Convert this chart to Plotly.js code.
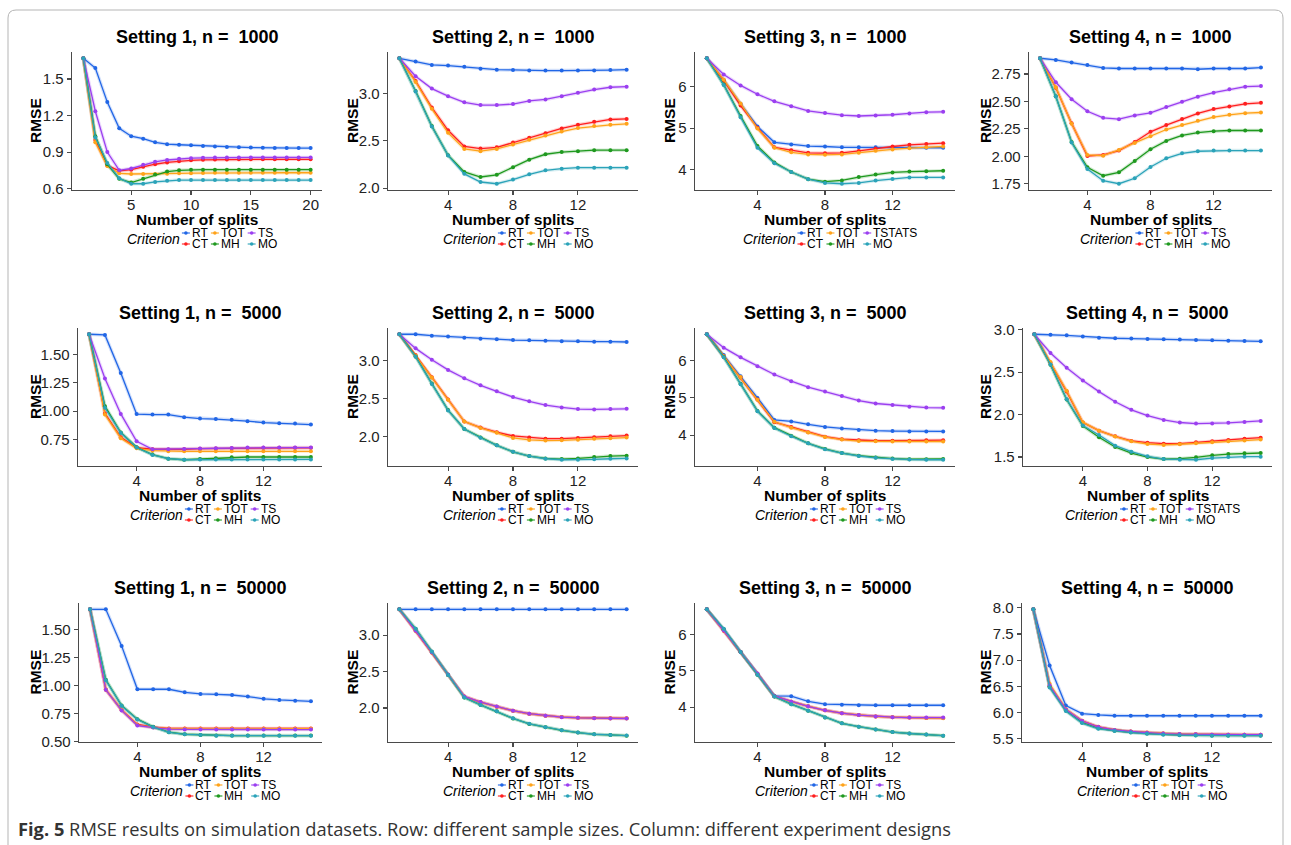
<!DOCTYPE html>
<html><head><meta charset="utf-8">
<script src="https://cdn.plot.ly/plotly-3.0.1.min.js"></script>
<style>html,body{margin:0;padding:0;background:#fff}#chart{width:1291px;height:845px}</style>
</head><body><div id="chart"></div>
<script>
// ---------------- DATA ----------------
const splits20 = [1,2,3,4,5,6,7,8,9,10,11,12,13,14,15,16,17,18,19,20];
const splits15 = [1,2,3,4,5,6,7,8,9,10,11,12,13,14,15];
const criteria = ["RT","CT","TOT","MH","TS","MO"];
const panelTitles = [
  "Setting 1, n =\u00a0 1000","Setting 2, n =\u00a0 1000","Setting 3, n =\u00a0 1000","Setting 4, n =\u00a0 1000",
  "Setting 1, n =\u00a0 5000","Setting 2, n =\u00a0 5000","Setting 3, n =\u00a0 5000","Setting 4, n =\u00a0 5000",
  "Setting 1, n =\u00a0 50000","Setting 2, n =\u00a0 50000","Setting 3, n =\u00a0 50000","Setting 4, n =\u00a0 50000"];
const tsLegendLabels = ["TS","TS","TSTATS","TS","TS","TS","TS","TSTATS","TS","TS","TS","TS"];
const xTickVals20 = [5,10,15,20];
const xTickVals15 = [4,8,12];
const yTickVals = [
  [0.6,0.9,1.2,1.5],[2.0,2.5,3.0],[4,5,6],[1.75,2.00,2.25,2.50,2.75],
  [0.75,1.00,1.25,1.50],[2.0,2.5,3.0],[4,5,6],[1.5,2.0,2.5,3.0],
  [0.50,0.75,1.00,1.25,1.50],[2.0,2.5,3.0],[4,5,6],[5.5,6.0,6.5,7.0,7.5,8.0]];
const yTickText = [
  ["0.6","0.9","1.2","1.5"],["2.0","2.5","3.0"],["4","5","6"],["1.75","2.00","2.25","2.50","2.75"],
  ["0.75","1.00","1.25","1.50"],["2.0","2.5","3.0"],["4","5","6"],["1.5","2.0","2.5","3.0"],
  ["0.50","0.75","1.00","1.25","1.50"],["2.0","2.5","3.0"],["4","5","6"],["5.5","6.0","6.5","7.0","7.5","8.0"]];

// Setting 1, n = 1000 (splits 1..20)
const S1_1000_RT  = [1.67,1.59,1.31,1.095,1.03,1.01,0.98,0.965,0.96,0.955,0.95,0.945,0.942,0.94,0.937,0.935,0.934,0.933,0.933,0.933];
const S1_1000_CT  = [1.67,1.00,0.79,0.745,0.755,0.78,0.80,0.815,0.825,0.832,0.836,0.838,0.839,0.84,0.84,0.84,0.84,0.84,0.84,0.84];
const S1_1000_TOT = [1.67,0.98,0.785,0.725,0.72,0.72,0.72,0.722,0.725,0.727,0.728,0.73,0.73,0.73,0.73,0.73,0.73,0.73,0.73,0.73];
const S1_1000_MH  = [1.67,1.03,0.80,0.68,0.65,0.68,0.715,0.74,0.75,0.755,0.755,0.755,0.755,0.755,0.755,0.755,0.755,0.755,0.755,0.755];
const S1_1000_TS  = [1.67,1.235,0.90,0.75,0.765,0.795,0.82,0.835,0.845,0.85,0.853,0.855,0.856,0.856,0.856,0.856,0.856,0.856,0.856,0.856];
const S1_1000_MO  = [1.67,1.02,0.81,0.685,0.64,0.64,0.655,0.665,0.67,0.67,0.67,0.67,0.67,0.67,0.67,0.67,0.67,0.67,0.67,0.67];
// Setting 2, n = 1000
const S2_1000_RT  = [3.37,3.335,3.30,3.293,3.28,3.26,3.25,3.247,3.24,3.24,3.24,3.24,3.24,3.245,3.25];
const S2_1000_CT  = [3.37,3.13,2.85,2.61,2.44,2.417,2.43,2.48,2.53,2.58,2.63,2.668,2.70,2.724,2.73];
const S2_1000_TOT = [3.37,3.12,2.837,2.583,2.413,2.39,2.413,2.46,2.51,2.555,2.597,2.633,2.654,2.668,2.678];
const S2_1000_MH  = [3.37,3.025,2.654,2.346,2.17,2.117,2.14,2.22,2.30,2.357,2.38,2.39,2.40,2.40,2.40];
const S2_1000_TS  = [3.37,3.18,3.05,2.97,2.905,2.876,2.876,2.887,2.92,2.936,2.97,3.007,3.04,3.064,3.07];
const S2_1000_MO  = [3.37,3.02,2.65,2.345,2.15,2.064,2.046,2.09,2.145,2.187,2.205,2.215,2.215,2.215,2.215];
// Setting 3, n = 1000
const S3_1000_RT  = [6.67,6.15,5.58,5.04,4.66,4.61,4.57,4.56,4.54,4.54,4.54,4.54,4.535,4.53,4.53];
const S3_1000_CT  = [6.67,6.14,5.54,5.01,4.54,4.47,4.41,4.40,4.41,4.455,4.51,4.56,4.60,4.62,4.64];
const S3_1000_TOT = [6.67,6.16,5.59,4.99,4.53,4.42,4.37,4.36,4.37,4.41,4.46,4.49,4.52,4.54,4.56];
const S3_1000_MH  = [6.67,6.04,5.29,4.57,4.18,3.95,3.78,3.72,3.75,3.83,3.89,3.94,3.96,3.97,3.98];
const S3_1000_TS  = [6.67,6.28,6.02,5.81,5.64,5.52,5.41,5.36,5.31,5.29,5.30,5.32,5.35,5.38,5.39];
const S3_1000_MO  = [6.67,6.03,5.26,4.53,4.16,3.95,3.78,3.69,3.67,3.69,3.745,3.785,3.82,3.82,3.82];
// Setting 4, n = 1000
const S4_1000_RT  = [2.893,2.878,2.854,2.832,2.805,2.80,2.80,2.80,2.80,2.80,2.793,2.80,2.80,2.80,2.808];
const S4_1000_CT  = [2.893,2.625,2.30,2.003,2.012,2.052,2.13,2.223,2.284,2.34,2.39,2.43,2.454,2.478,2.487];
const S4_1000_TOT = [2.893,2.63,2.296,2.012,2.006,2.058,2.122,2.183,2.244,2.284,2.323,2.357,2.378,2.393,2.399];
const S4_1000_MH  = [2.893,2.546,2.13,1.90,1.823,1.854,1.957,2.064,2.14,2.19,2.216,2.229,2.235,2.235,2.235];
const S4_1000_TS  = [2.893,2.674,2.52,2.41,2.35,2.338,2.372,2.396,2.448,2.497,2.543,2.58,2.61,2.634,2.64];
const S4_1000_MO  = [2.893,2.545,2.125,1.884,1.777,1.75,1.80,1.903,1.982,2.027,2.046,2.052,2.052,2.052,2.052];
// Setting 1, n = 5000
const S1_5000_RT  = [1.676,1.67,1.335,0.974,0.97,0.97,0.947,0.935,0.93,0.924,0.912,0.90,0.894,0.891,0.882];
const S1_5000_CT  = [1.676,0.98,0.77,0.68,0.665,0.662,0.665,0.67,0.672,0.675,0.676,0.678,0.678,0.678,0.678];
const S1_5000_TOT = [1.676,0.97,0.762,0.673,0.653,0.647,0.647,0.647,0.647,0.647,0.647,0.647,0.647,0.647,0.647];
const S1_5000_MH  = [1.676,1.044,0.812,0.682,0.618,0.582,0.573,0.579,0.585,0.594,0.597,0.597,0.597,0.597,0.597];
const S1_5000_TS  = [1.676,1.288,0.976,0.735,0.665,0.665,0.668,0.671,0.674,0.676,0.68,0.68,0.68,0.68,0.68];
const S1_5000_MO  = [1.676,1.03,0.81,0.68,0.615,0.582,0.573,0.574,0.576,0.576,0.576,0.576,0.576,0.576,0.576];
// Setting 2, n = 5000
const S2_5000_RT  = [3.35,3.35,3.332,3.319,3.305,3.292,3.283,3.274,3.27,3.265,3.257,3.257,3.252,3.252,3.248];
const S2_5000_CT  = [3.35,3.075,2.783,2.49,2.199,2.12,2.058,2.009,1.987,1.973,1.973,1.982,1.99,2.004,2.013];
const S2_5000_TOT = [3.35,3.07,2.78,2.485,2.2,2.115,2.05,1.982,1.956,1.947,1.951,1.96,1.973,1.978,1.987];
const S2_5000_MH  = [3.35,3.058,2.70,2.35,2.10,1.987,1.885,1.80,1.743,1.712,1.703,1.712,1.73,1.743,1.748];
const S2_5000_TS  = [3.35,3.164,3.013,2.88,2.77,2.677,2.597,2.522,2.465,2.416,2.385,2.363,2.358,2.363,2.367];
const S2_5000_MO  = [3.35,3.055,2.695,2.345,2.10,1.985,1.885,1.80,1.743,1.708,1.695,1.695,1.70,1.708,1.712];
// Setting 3, n = 5000
const S3_5000_RT  = [6.71,6.15,5.58,5.0,4.41,4.37,4.29,4.22,4.18,4.14,4.12,4.11,4.10,4.10,4.10];
const S3_5000_CT  = [6.71,6.12,5.55,4.96,4.35,4.22,4.08,3.96,3.89,3.86,3.85,3.85,3.85,3.86,3.865];
const S3_5000_TOT = [6.71,6.12,5.56,4.95,4.36,4.20,4.07,3.95,3.88,3.84,3.835,3.83,3.83,3.83,3.83];
const S3_5000_MH  = [6.71,6.10,5.38,4.65,4.20,3.98,3.78,3.63,3.52,3.45,3.40,3.37,3.355,3.355,3.36];
const S3_5000_TS  = [6.71,6.35,6.09,5.85,5.63,5.45,5.29,5.17,5.05,4.93,4.85,4.81,4.76,4.74,4.735];
const S3_5000_MO  = [6.71,6.09,5.37,4.64,4.19,3.97,3.78,3.62,3.52,3.44,3.39,3.36,3.345,3.34,3.34];
// Setting 4, n = 5000
const S4_5000_RT  = [2.945,2.94,2.933,2.92,2.905,2.898,2.894,2.89,2.886,2.882,2.878,2.874,2.87,2.866,2.862];
const S4_5000_CT  = [2.945,2.61,2.27,1.906,1.81,1.744,1.689,1.669,1.657,1.657,1.673,1.685,1.70,1.716,1.728];
const S4_5000_TOT = [2.945,2.62,2.28,1.91,1.81,1.74,1.685,1.653,1.642,1.65,1.661,1.673,1.685,1.693,1.705];
const S4_5000_MH  = [2.945,2.587,2.177,1.866,1.732,1.618,1.547,1.50,1.476,1.48,1.496,1.52,1.535,1.543,1.547];
const S4_5000_TS  = [2.945,2.724,2.551,2.40,2.27,2.15,2.055,1.988,1.937,1.906,1.894,1.894,1.902,1.913,1.925];
const S4_5000_MO  = [2.945,2.59,2.18,1.87,1.76,1.634,1.563,1.508,1.476,1.468,1.468,1.488,1.50,1.504,1.504];
// Setting 1, n = 50000
const S1_50000_RT  = [1.68,1.68,1.353,0.965,0.965,0.965,0.938,0.923,0.92,0.914,0.90,0.88,0.87,0.863,0.857];
const S1_50000_CT  = [1.68,0.96,0.78,0.65,0.626,0.614,0.614,0.614,0.614,0.614,0.614,0.614,0.614,0.614,0.614];
const S1_50000_TOT = [1.68,0.965,0.78,0.645,0.625,0.613,0.612,0.612,0.612,0.612,0.612,0.612,0.612,0.612,0.612];
const S1_50000_MH  = [1.68,1.05,0.82,0.698,0.629,0.581,0.563,0.557,0.551,0.551,0.551,0.551,0.551,0.551,0.551];
const S1_50000_TS  = [1.68,0.96,0.776,0.641,0.623,0.608,0.606,0.605,0.605,0.605,0.605,0.605,0.605,0.605,0.605];
const S1_50000_MO  = [1.68,1.045,0.818,0.695,0.627,0.58,0.562,0.556,0.55,0.55,0.55,0.55,0.55,0.55,0.55];
// Setting 2, n = 50000
const S2_50000_RT  = [3.356,3.356,3.356,3.356,3.356,3.356,3.356,3.356,3.356,3.356,3.356,3.356,3.356,3.356,3.356];
const S2_50000_CT  = [3.356,3.062,2.762,2.458,2.158,2.08,2.018,1.963,1.921,1.894,1.876,1.867,1.862,1.858,1.858];
const S2_50000_TOT = [3.356,3.065,2.764,2.458,2.157,2.079,2.018,1.963,1.921,1.894,1.875,1.866,1.861,1.857,1.857];
const S2_50000_MH  = [3.356,3.088,2.773,2.454,2.144,2.042,1.954,1.857,1.782,1.736,1.694,1.662,1.639,1.63,1.62];
const S2_50000_TS  = [3.356,3.066,2.766,2.46,2.16,2.082,2.02,1.964,1.922,1.893,1.874,1.865,1.86,1.856,1.856];
const S2_50000_MO  = [3.356,3.09,2.775,2.455,2.145,2.043,1.955,1.858,1.783,1.737,1.695,1.663,1.64,1.631,1.621];
// Setting 3, n = 50000
const S3_50000_RT  = [6.70,6.15,5.52,4.90,4.31,4.30,4.16,4.08,4.065,4.05,4.05,4.05,4.05,4.05,4.05];
const S3_50000_CT  = [6.70,6.11,5.52,4.92,4.30,4.15,4.02,3.91,3.83,3.78,3.74,3.72,3.71,3.70,3.70];
const S3_50000_TOT = [6.70,6.12,5.52,4.92,4.30,4.15,4.02,3.91,3.83,3.78,3.74,3.72,3.71,3.70,3.69];
const S3_50000_MH  = [6.70,6.15,5.52,4.89,4.29,4.08,3.90,3.71,3.55,3.46,3.38,3.31,3.27,3.24,3.21];
const S3_50000_TS  = [6.70,6.12,5.52,4.93,4.30,4.15,4.02,3.91,3.83,3.78,3.74,3.72,3.71,3.71,3.71];
const S3_50000_MO  = [6.70,6.16,5.52,4.89,4.29,4.08,3.90,3.71,3.55,3.46,3.38,3.31,3.27,3.24,3.21];
// Setting 4, n = 50000
const S4_50000_RT  = [7.97,6.90,6.135,5.98,5.955,5.94,5.94,5.94,5.94,5.94,5.94,5.94,5.94,5.94,5.94];
const S4_50000_CT  = [7.97,6.50,6.06,5.845,5.73,5.67,5.64,5.615,5.60,5.59,5.585,5.58,5.58,5.58,5.58];
const S4_50000_TOT = [7.97,6.55,6.07,5.84,5.72,5.67,5.64,5.62,5.60,5.59,5.585,5.58,5.58,5.58,5.58];
const S4_50000_MH  = [7.97,6.50,6.04,5.81,5.70,5.655,5.625,5.60,5.585,5.575,5.57,5.565,5.565,5.565,5.565];
const S4_50000_TS  = [7.97,6.52,6.06,5.84,5.725,5.67,5.64,5.615,5.60,5.59,5.585,5.58,5.58,5.58,5.58];
const S4_50000_MO  = [7.97,6.48,6.03,5.80,5.69,5.65,5.62,5.595,5.58,5.57,5.565,5.56,5.56,5.56,5.56];

const panelSeries = [
  [S1_1000_RT,S1_1000_CT,S1_1000_TOT,S1_1000_MH,S1_1000_TS,S1_1000_MO],
  [S2_1000_RT,S2_1000_CT,S2_1000_TOT,S2_1000_MH,S2_1000_TS,S2_1000_MO],
  [S3_1000_RT,S3_1000_CT,S3_1000_TOT,S3_1000_MH,S3_1000_TS,S3_1000_MO],
  [S4_1000_RT,S4_1000_CT,S4_1000_TOT,S4_1000_MH,S4_1000_TS,S4_1000_MO],
  [S1_5000_RT,S1_5000_CT,S1_5000_TOT,S1_5000_MH,S1_5000_TS,S1_5000_MO],
  [S2_5000_RT,S2_5000_CT,S2_5000_TOT,S2_5000_MH,S2_5000_TS,S2_5000_MO],
  [S3_5000_RT,S3_5000_CT,S3_5000_TOT,S3_5000_MH,S3_5000_TS,S3_5000_MO],
  [S4_5000_RT,S4_5000_CT,S4_5000_TOT,S4_5000_MH,S4_5000_TS,S4_5000_MO],
  [S1_50000_RT,S1_50000_CT,S1_50000_TOT,S1_50000_MH,S1_50000_TS,S1_50000_MO],
  [S2_50000_RT,S2_50000_CT,S2_50000_TOT,S2_50000_MH,S2_50000_TS,S2_50000_MO],
  [S3_50000_RT,S3_50000_CT,S3_50000_TOT,S3_50000_MH,S3_50000_TS,S3_50000_MO],
  [S4_50000_RT,S4_50000_CT,S4_50000_TOT,S4_50000_MH,S4_50000_TS,S4_50000_MO]];

// ---------------- STYLE / LAYOUT ----------------
const W = 1291, H = 845;
const colors = {RT:"#2166e6", CT:"#ff1f1f", TOT:"#ffa31a", MH:"#1f991f", TS:"#9b3ff0", MO:"#2ba3b9"};
const FONT = "Liberation Sans, Arial, sans-serif";
// plot boxes in pixels: [left, top, right, bottom]
const boxes = [
  [72,52,322,190],[388,52,638,190],[695,52,955,190],[1029,52,1272,190],
  [78,328,322,466],[388,328,638,466],[695,328,955,466],[1023,328,1272,466],
  [79,603,322,742],[388,603,638,742],[695,603,955,742],[1022,603,1272,742]];
const yTitleX = [35,352,669,985];

const px = v => v / W;
const py = v => 1 - v / H;
function rgba(hex, a){const n=parseInt(hex.slice(1),16);return `rgba(${n>>16&255},${n>>8&255},${n&255},${a})`;}
const cv = document.createElement('canvas').getContext('2d');
function measure(t, f){cv.font=f; return cv.measureText(t).width;}

const traces = [];
const layout = {width:W, height:H, margin:{l:0,r:0,t:0,b:0}, paper_bgcolor:'#ffffff', plot_bgcolor:'#ffffff',
  showlegend:false, annotations:[], shapes:[], font:{family:FONT}};

panelSeries.forEach((series, i) => {
  const k = i === 0 ? '' : String(i + 1);
  const [L, T, R, B] = boxes[i];
  const xs = i === 0 ? splits20 : splits15;
  const xspan = xs[xs.length-1] - xs[0];
  const allY = [].concat(...series);
  const ymin = Math.min(...allY), ymax = Math.max(...allY), ys = ymax - ymin;
  const axisCommon = {showline:true, linecolor:'#4a4a4a', linewidth:1.3, ticks:'outside', ticklen:4, tickwidth:1.1,
    tickcolor:'#4a4a4a', showgrid:false, zeroline:false, tickfont:{family:FONT, size:15, color:'#222'}, fixedrange:true};
  layout['xaxis'+k] = Object.assign({}, axisCommon, {domain:[px(L), px(R)], anchor:'y'+k,
    range:[xs[0]-0.05*xspan, xs[xs.length-1]+0.05*xspan], tickmode:'array', ticklabelstandoff:-3,
    tickvals: i===0 ? xTickVals20 : xTickVals15, ticktext:(i===0?xTickVals20:xTickVals15).map(String)});
  layout['yaxis'+k] = Object.assign({}, axisCommon, {domain:[py(B), py(T)], anchor:'x'+k,
    range:[ymin-0.05*ys, ymax+0.05*ys], tickmode:'array', tickvals:yTickVals[i], ticktext:yTickText[i]});

  criteria.forEach((c, j) => {
    traces.push({x:xs, y:series[j], xaxis:'x'+k, yaxis:'y'+k, mode:'lines', hoverinfo:'skip',
      line:{color:rgba(colors[c],0.2), width:3.5}});
  });
  criteria.forEach((c, j) => {
    traces.push({x:xs, y:series[j], xaxis:'x'+k, yaxis:'y'+k, mode:'lines+markers', name:c,
      line:{color:colors[c], width:1.3}, marker:{color:colors[c], size:4, symbol:'circle'}});
  });

  const cx = (L + R) / 2;
  // title
  layout.annotations.push({xref:'paper', yref:'paper', x:px(cx), y:py(T-15), xanchor:'center', yanchor:'middle',
    text:'<b>'+panelTitles[i]+'</b>', showarrow:false, font:{family:FONT, size:18, color:'#000'}});
  // axis titles
  layout.annotations.push({xref:'paper', yref:'paper', x:px(cx), y:py(B+29.5), xanchor:'center', yanchor:'middle',
    text:'<b>Number of splits</b>', showarrow:false, borderpad:0, font:{family:FONT, size:15.5, color:'#000'}});
  layout.annotations.push({xref:'paper', yref:'paper', x:px(yTitleX[i%4]), y:py((T+B)/2), xanchor:'center', yanchor:'middle',
    text:'<b>RMSE</b>', textangle:-90, showarrow:false, font:{family:FONT, size:15.5, color:'#000'}});

  // legend (drawn manually, two rows)
  const fCrit = "italic 14px 'Liberation Sans'", fItem = "12px 'Liberation Sans'";
  const rows = [["RT","TOT",tsLegendLabels[i]],["CT","MH","MO"]];
  const rowKeys = [["RT","TOT","TS"],["CT","MH","MO"]];
  const colW = [0,1,2].map(c => Math.max(measure(rows[0][c], fItem), measure(rows[1][c], fItem)));
  const KEY = 8, GT = 2, GC = 3, GCRIT = 0;
  const wc = measure("Criterion", fCrit);
  const total = wc + GCRIT + colW.reduce((a,b)=>a+b+KEY+GT,0) + 2*GC;
  let x = cx - total/2 + 6;
  layout.annotations.push({xref:'paper', yref:'paper', x:px(x-3), y:py(B+49), xanchor:'left', yanchor:'middle',
    text:'<i>Criterion</i>', showarrow:false, borderpad:0, font:{family:FONT, size:14, color:'#000'}});
  x += wc + GCRIT;
  [0,1,2].forEach(c => {
    [0,1].forEach(r => {
      const yy = B + (r===0 ? 43 : 54);
      const col = colors[rowKeys[r][c]];
      layout.shapes.push({type:'line', xref:'paper', yref:'paper', x0:px(x), x1:px(x+KEY), y0:py(yy), y1:py(yy),
        line:{color:col, width:1.1}});
      layout.shapes.push({type:'circle', xref:'paper', yref:'paper', x0:px(x+KEY/2-1.8), x1:px(x+KEY/2+1.8),
        y0:py(yy+1.8), y1:py(yy-1.8), fillcolor:col, line:{width:0}});
      layout.annotations.push({xref:'paper', yref:'paper', x:px(x+KEY+GT-1), y:py(yy), xanchor:'left', yanchor:'middle',
        text:rows[r][c], showarrow:false, borderpad:0, font:{family:FONT, size:12, color:'#000'}});
    });
    x += KEY + GT + colW[c] + GC;
  });
});

// frame
(function(){
  const l=8,t=10,r=1283,b=860,rad=8;
  const P=(X,Y)=>`${px(X)},${py(Y)}`;
  const path = `M ${P(l+rad,t)} L ${P(r-rad,t)} Q ${P(r,t)} ${P(r,t+rad)} L ${P(r,b-rad)} Q ${P(r,b)} ${P(r-rad,b)} L ${P(l+rad,b)} Q ${P(l,b)} ${P(l,b-rad)} L ${P(l,t+rad)} Q ${P(l,t)} ${P(l+rad,t)} Z`;
  layout.shapes.push({type:'path', xref:'paper', yref:'paper', path:path, line:{color:'#b5b5b5', width:1}, layer:'below'});
})();

// caption
layout.annotations.push({xref:'paper', yref:'paper', x:px(16), y:py(828), xanchor:'left', yanchor:'middle', showarrow:false,
  text:'<b>Fig. 5</b> RMSE results on simulation datasets. Row: different sample sizes. Column: different experiment designs',
  font:{family:'Open Sans, sans-serif', size:18.3, color:'#333'}});

Plotly.newPlot('chart', traces, layout, {staticPlot:true, displayModeBar:false});
</script>
</body></html>
